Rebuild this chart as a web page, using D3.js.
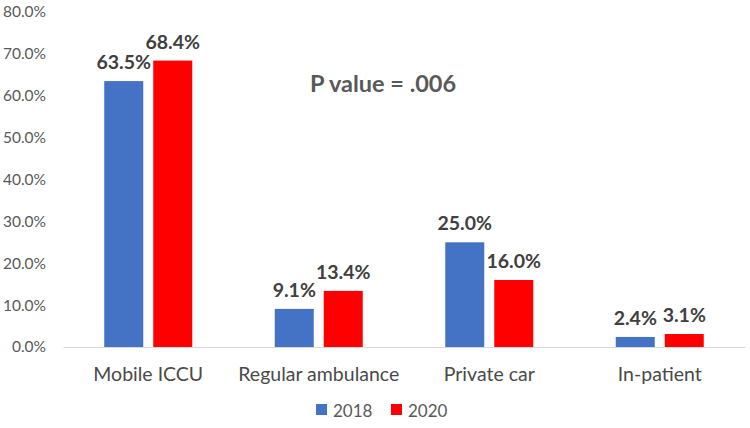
<!DOCTYPE html>
<html>
<head>
<meta charset="utf-8">
<script src="https://cdn.jsdelivr.net/npm/d3@7"></script>
<style>
html,body{margin:0;padding:0;background:#fff;}
svg{display:block;font-family:Lato,"Open Sans",sans-serif;}
</style>
</head>
<body>
<svg id="chart" width="750" height="428"></svg>
<script>
const categories = ["Mobile ICCU", "Regular ambulance", "Private car", "In-patient"];
const seriesNames = ["2018", "2020"];
const values2018 = [63.5, 9.1, 25.0, 2.4];
const values2020 = [68.4, 13.4, 16.0, 3.1];
const colors = ["#4472C4", "#FF0000"];
const yTicks = [0, 10, 20, 30, 40, 50, 60, 70, 80];
const annotation = "P value = .006";

const series = [values2018, values2020];
const svg = d3.select("#chart");

const x0 = d3.scaleBand().domain(categories).range([63, 745]).padding(0);
const x1 = d3.scaleBand().domain(seriesNames).range([0, 88]).paddingInner(0.204).paddingOuter(0);
const y = d3.scaleLinear().domain([0, 80]).range([347, 12]);

// y axis labels
const yAxis = d3.axisLeft(y).tickValues(yTicks).tickFormat(d => d.toFixed(1) + "%").tickSize(0).tickPadding(0);
const ya = svg.append("g").attr("transform", "translate(46,0)").call(yAxis);
ya.select(".domain").remove();
ya.selectAll("text").attr("fill", "#595959").style("font-size", "15.5px").style("font-family", "Lato, sans-serif");

// bars
const groups = svg.append("g").selectAll("g").data(categories).join("g")
  .attr("transform", d => `translate(${x0(d) + x0.bandwidth()/2 - 44},0)`);

groups.each(function(cat, i) {
  const g = d3.select(this);
  seriesNames.forEach((s, j) => {
    const v = series[j][i];
    g.append("rect")
      .attr("x", x1(s)).attr("y", y(v))
      .attr("width", x1.bandwidth()).attr("height", y(0) - y(v))
      .attr("fill", colors[j]);
    g.append("text")
      .attr("x", x1(s) + x1.bandwidth()/2).attr("y", y(v) - 12)
      .attr("text-anchor", "middle")
      .attr("fill", "#404040").style("font-size", "19.5px").style("font-weight", "bold")
      .text(v.toFixed(1) + "%");
  });
});

// x axis
const xAxis = d3.axisBottom(x0).tickSize(0).tickPadding(20);
const xa = svg.append("g").attr("transform", "translate(0,347)").call(xAxis);
xa.select(".domain").attr("stroke", "#d9d9d9").attr("stroke-width", 1.2);
xa.selectAll("text").attr("fill", "#4a4a4a").style("font-size", "19.5px").style("font-family", "Lato, sans-serif");

// annotation
svg.append("text").attr("x", 383).attr("y", 92).attr("text-anchor", "middle")
  .attr("fill", "#595959").style("font-size", "23.5px").style("font-weight", "bold").text(annotation);

// legend
const legend = svg.append("g").attr("transform", "translate(0,410)");
const legendX = [316, 391];
seriesNames.forEach((s, j) => {
  legend.append("rect").attr("x", legendX[j]).attr("y", -6).attr("width", 11).attr("height", 11).attr("fill", colors[j]);
  legend.append("text").attr("x", legendX[j] + 17).attr("y", 6.5).attr("fill", "#595959")
    .style("font-size", "17px").text(s);
});
</script>
</body>
</html>
